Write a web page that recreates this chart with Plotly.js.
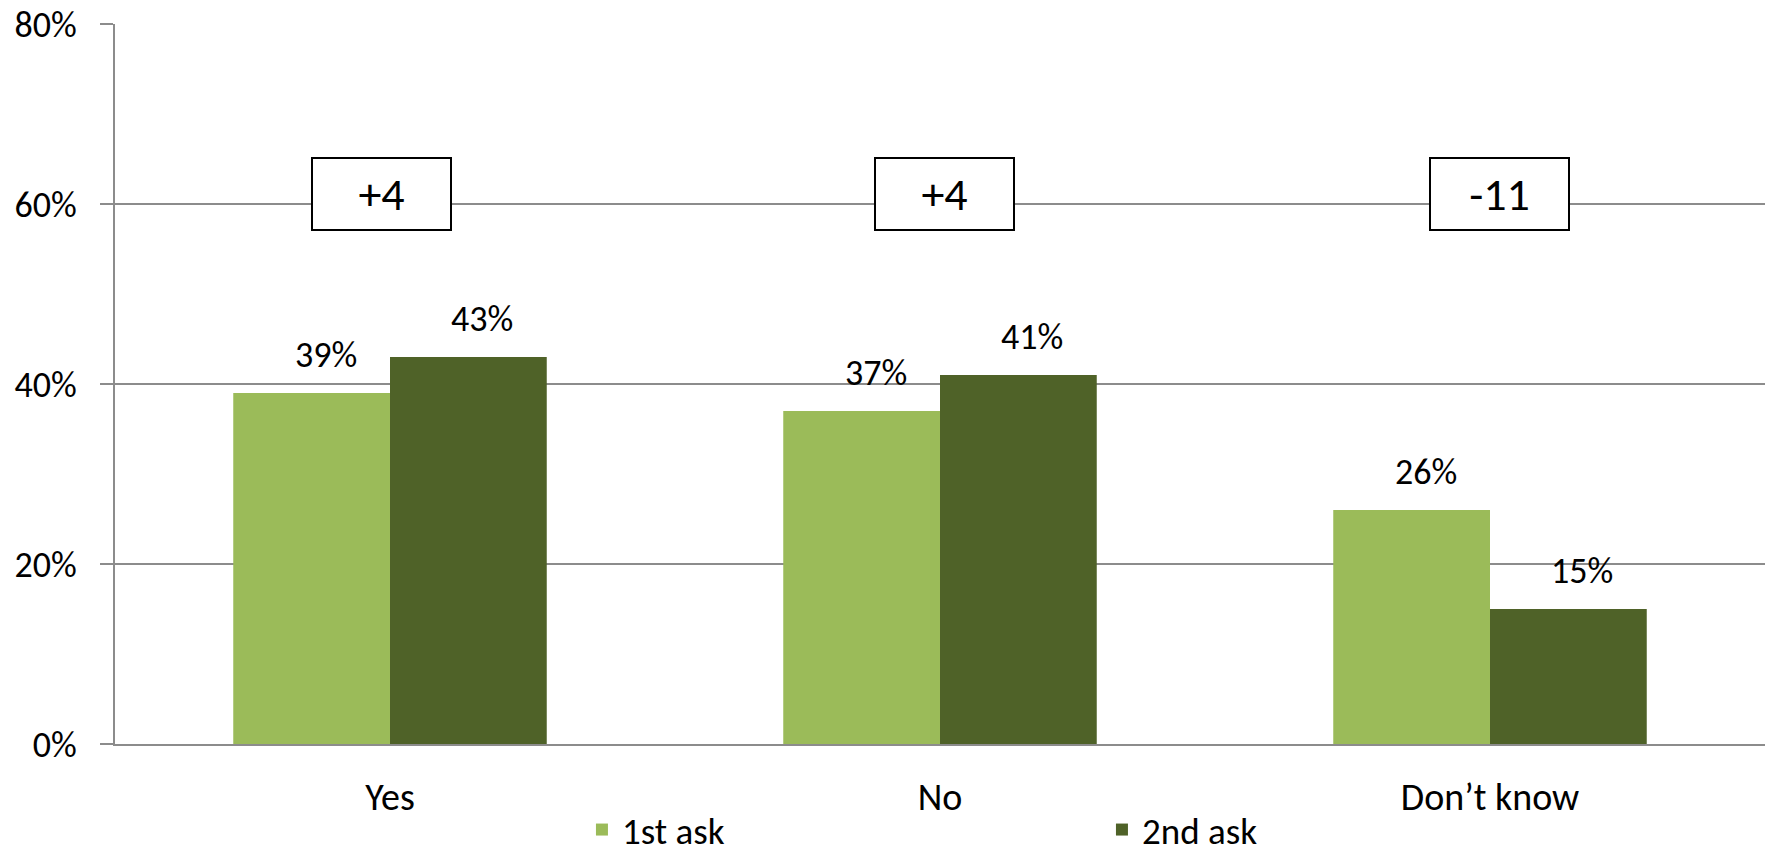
<!DOCTYPE html>
<html>
<head>
<meta charset="utf-8">
<script src="https://cdn.plot.ly/plotly-3.0.1.min.js"></script>
<style>html,body{margin:0;padding:0;background:#fff;}#chart{width:1767px;height:861px;}</style>
</head>
<body>
<div id="chart"></div>
<script>
const categories = ["Yes", "No", "Don\u2019t know"];
const seriesNames = ["1st ask", "2nd ask"];
const firstAsk = [0.39, 0.37, 0.26];
const secondAsk = [0.43, 0.41, 0.15];
const yTickVals = [0, 0.2, 0.4, 0.6, 0.8];
const yTickText = ["0%", "20%", "40%", "60%", "80%"];

const FONT = "Carlito, Lato, 'Liberation Sans', sans-serif";
const colors = ["#9BBB59", "#4F6228"];
const grid = "#8C8C8C";
const boxShift = [-9, 4, 9];

const traces = [firstAsk, secondAsk].map((vals, i) => ({
  type: "bar",
  name: seriesNames[i],
  x: categories,
  y: vals,
  marker: {color: colors[i], line: {width: 0}},
  hoverinfo: "skip"
}));

const annotations = [];
// value labels
[firstAsk, secondAsk].forEach((vals, i) => {
  vals.forEach((v, j) => {
    annotations.push({
      xref: "x", yref: "y", x: categories[j], y: v,
      text: Math.round(v * 100) + "%",
      showarrow: false, yanchor: "bottom", xanchor: "center",
      xshift: (i === 0 ? -78 : 78) + 14, yshift: 14,
      font: {family: FONT, size: 36, color: "#000"}
    });
  });
});
// change boxes
categories.forEach((c, j) => {
  const d = Math.round((secondAsk[j] - firstAsk[j]) * 100);
  annotations.push({
    xref: "x", yref: "y", x: c, y: 0.611,
    text: (d > 0 ? "+" : "") + d,
    showarrow: false, xanchor: "center", yanchor: "middle",
    xshift: boxShift[j],
    width: 137, height: 70, borderpad: 0,
    bgcolor: "#fff", bordercolor: "#000", borderwidth: 2,
    font: {family: FONT, size: 46, color: "#000"}
  });
});

const layout = {
  width: 1767, height: 861,
  margin: {l: 115, r: 2, t: 24, b: 117, pad: 0, autoexpand: false},
  paper_bgcolor: "#fff", plot_bgcolor: "#fff",
  barmode: "group", bargap: 0.43, bargroupgap: 0,
  font: {family: FONT, color: "#000"},
  showlegend: true,
  legend: {
    orientation: "h", x: 0.283, xanchor: "left",
    yref: "container", y: 0, yanchor: "bottom",
    bgcolor: "rgba(0,0,0,0)",
    font: {family: FONT, size: 37, color: "#000"},
    entrywidth: 475, entrywidthmode: "pixels", traceorder: "normal"
  },
  xaxis: {
    type: "category", range: [-0.5, 2.5], showgrid: false,
    showline: true, linecolor: grid, linewidth: 2,
    ticks: "", ticklabelstandoff: 18,
    tickfont: {family: FONT, size: 38, color: "#000"},
    fixedrange: true
  },
  yaxis: {
    range: [0, 0.8], tickvals: yTickVals, ticktext: yTickText,
    showgrid: true, gridcolor: grid, gridwidth: 2,
    showline: true, linecolor: grid, linewidth: 2,
    zeroline: false,
    ticks: "outside", ticklen: 13, tickcolor: grid, tickwidth: 2,
    ticklabelstandoff: 16,
    tickfont: {family: FONT, size: 36, color: "#000"},
    fixedrange: true
  },
  annotations: annotations
};

Plotly.newPlot("chart", traces, layout, {displayModeBar: false, staticPlot: true});
</script>
</body>
</html>
